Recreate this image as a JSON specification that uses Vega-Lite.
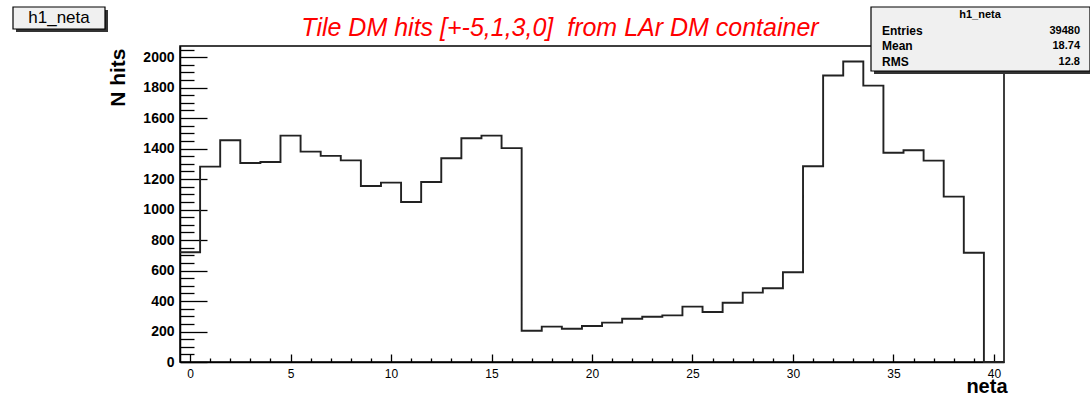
{
  "$schema": "https://vega.github.io/schema/vega-lite/v6.json",
  "autosize": {"type": "none"},
  "padding": {"left": 180, "top": 46, "right": 86, "bottom": 33},
  "width": 824,
  "height": 316,
  "background": "white",
  "config": {
    "view": {"stroke": "#000", "strokeWidth": 1.5},
    "font": "Liberation Sans"
  },
  "title": {
    "text": "Tile DM hits [+-5,1,3,0]\u00a0 from LAr DM container",
    "color": "#ff0000",
    "font": "Liberation Sans",
    "fontStyle": "italic",
    "fontWeight": "normal",
    "fontSize": 25,
    "anchor": "middle",
    "dx": -32,
    "dy": 64,
    "offset": 9,
    "baseline": "alphabetic"
  },
  "data": {
    "values": [
      {"neta_low": -0.5, "hits": 720},
      {"neta_low": 0.5, "hits": 1282},
      {"neta_low": 1.5, "hits": 1455},
      {"neta_low": 2.5, "hits": 1305},
      {"neta_low": 3.5, "hits": 1312},
      {"neta_low": 4.5, "hits": 1485},
      {"neta_low": 5.5, "hits": 1380},
      {"neta_low": 6.5, "hits": 1352},
      {"neta_low": 7.5, "hits": 1323},
      {"neta_low": 8.5, "hits": 1155},
      {"neta_low": 9.5, "hits": 1177},
      {"neta_low": 10.5, "hits": 1050},
      {"neta_low": 11.5, "hits": 1181},
      {"neta_low": 12.5, "hits": 1337},
      {"neta_low": 13.5, "hits": 1468},
      {"neta_low": 14.5, "hits": 1485},
      {"neta_low": 15.5, "hits": 1403},
      {"neta_low": 16.5, "hits": 205},
      {"neta_low": 17.5, "hits": 232},
      {"neta_low": 18.5, "hits": 218},
      {"neta_low": 19.5, "hits": 236},
      {"neta_low": 20.5, "hits": 258},
      {"neta_low": 21.5, "hits": 284},
      {"neta_low": 22.5, "hits": 297},
      {"neta_low": 23.5, "hits": 306},
      {"neta_low": 24.5, "hits": 363},
      {"neta_low": 25.5, "hits": 328},
      {"neta_low": 26.5, "hits": 389},
      {"neta_low": 27.5, "hits": 455},
      {"neta_low": 28.5, "hits": 484},
      {"neta_low": 29.5, "hits": 589},
      {"neta_low": 30.5, "hits": 1284},
      {"neta_low": 31.5, "hits": 1879},
      {"neta_low": 32.5, "hits": 1971},
      {"neta_low": 33.5, "hits": 1813},
      {"neta_low": 34.5, "hits": 1373},
      {"neta_low": 35.5, "hits": 1389},
      {"neta_low": 36.5, "hits": 1321},
      {"neta_low": 37.5, "hits": 1085},
      {"neta_low": 38.5, "hits": 717},
      {"neta_low": 39.5, "hits": 0},
      {"neta_low": 40.5, "hits": 0}
    ]
  },
  "layer": [
    {
      "mark": {"type": "line", "interpolate": "step-after", "stroke": "#222", "strokeWidth": 1.9},
      "encoding": {
        "x": {
          "field": "neta_low",
          "type": "quantitative",
          "scale": {"domain": [-0.5, 40.5], "nice": false, "zero": false},
          "axis": {
            "title": "neta",
            "titleFont": "Liberation Sans",
            "titleFontSize": 20,
            "titleFontWeight": "bold",
            "titleColor": "#000",
            "titleAnchor": "end",
            "titleAlign": "right",
            "titleBaseline": "alphabetic",
            "titleX": 827,
            "titleY": 30,
            "values": [0,1,2,3,4,5,6,7,8,9,10,11,12,13,14,15,16,17,18,19,20,21,22,23,24,25,26,27,28,29,30,31,32,33,34,35,36,37,38,39,40],
            "labelExpr": "datum.value % 5 === 0 ? datum.label : ''",
            "labelFont": "Liberation Sans",
            "labelFontSize": 12,
            "labelColor": "#000",
            "labelBaseline": "top",
            "labelPadding": 14,
            "labelFlush": false,
            "labelOverlap": false,
            "tickSize": {"condition": {"test": "datum.value % 5 === 0", "value": -8}, "value": -4},
            "tickColor": "#000",
            "tickWidth": 1.3,
            "domainColor": "#000",
            "domainWidth": 1.5,
            "grid": false
          }
        },
        "y": {
          "field": "hits",
          "type": "quantitative",
          "scale": {"domain": [0, 2073], "nice": false, "zero": true},
          "axis": {
            "title": "N hits",
            "titleFont": "Liberation Sans",
            "titleFontSize": 21,
            "titleFontWeight": "bold",
            "titleColor": "#000",
            "titleAngle": -90,
            "titleAlign": "right",
            "titleBaseline": "alphabetic",
            "titleX": -56,
            "titleY": 2,
            "values": [0,50,100,150,200,250,300,350,400,450,500,550,600,650,700,750,800,850,900,950,1000,1050,1100,1150,1200,1250,1300,1350,1400,1450,1500,1550,1600,1650,1700,1750,1800,1850,1900,1950,2000,2050],
            "labelExpr": "datum.value % 200 === 0 ? datum.value : ''",
            "labelFont": "Liberation Sans",
            "labelFontSize": 14,
            "labelFontWeight": "bold",
            "labelColor": "#000",
            "labelPadding": 33,
            "labelFlush": false,
            "labelOverlap": false,
            "tickSize": {"condition": {"test": "datum.value % 200 === 0", "value": -27}, "value": -14},
            "tickColor": "#000",
            "tickWidth": 1.3,
            "domainColor": "#000",
            "domainWidth": 1.5,
            "grid": false
          }
        }
      }
    },
    {
      "data": {"values": [{}]},
      "mark": {"type": "rect", "fill": "#333", "x": -164, "x2": -72, "y": -36, "y2": -14},
      "encoding": {}
    },
    {
      "data": {"values": [{}]},
      "mark": {"type": "rect", "fill": "#f0f0f0", "stroke": "#000", "strokeWidth": 1.2, "x": -167, "x2": -75, "y": -39, "y2": -17},
      "encoding": {}
    },
    {
      "data": {"values": [{}]},
      "mark": {"type": "text", "text": "h1_neta", "font": "Liberation Sans", "fontSize": 17, "color": "#000", "align": "center", "baseline": "middle", "x": -121, "y": -28},
      "encoding": {}
    },
    {
      "data": {"values": [{}]},
      "mark": {"type": "rect", "fill": "#333", "x": 694, "x2": 913, "y": -36, "y2": 28},
      "encoding": {}
    },
    {
      "data": {"values": [{}]},
      "mark": {"type": "rect", "fill": "#f0f0f0", "stroke": "#000", "strokeWidth": 1.2, "x": 691, "x2": 910, "y": -39, "y2": 25},
      "encoding": {}
    },
    {
      "data": {"values": [{}]},
      "mark": {"type": "rule", "stroke": "#000", "strokeWidth": 1.2, "x": 691, "x2": 910, "y": -23, "y2": -23},
      "encoding": {}
    },
    {
      "data": {"values": [{}]},
      "mark": {"type": "text", "text": "h1_neta", "font": "Liberation Sans", "fontSize": 11, "fontWeight": "bold", "color": "#000", "align": "center", "baseline": "middle", "x": 800, "y": -31},
      "encoding": {}
    },
    {
      "data": {"values": [{}]},
      "mark": {"type": "text", "text": ["Entries", "Mean", "RMS"], "lineHeight": 15.3, "font": "Liberation Sans", "fontSize": 12, "fontWeight": "bold", "color": "#000", "align": "left", "baseline": "middle", "x": 702, "y": -15},
      "encoding": {}
    },
    {
      "data": {"values": [{}]},
      "mark": {"type": "text", "text": ["39480", "18.74", "12.8"], "lineHeight": 15.3, "font": "Liberation Sans", "fontSize": 11, "fontWeight": "bold", "color": "#000", "align": "right", "baseline": "middle", "x": 900, "y": -15},
      "encoding": {}
    }
  ]
}
